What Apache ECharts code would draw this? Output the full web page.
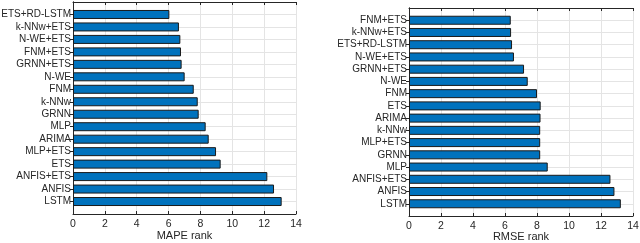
<!DOCTYPE html>
<html><head><meta charset="utf-8">
<script src="https://cdn.jsdelivr.net/npm/echarts@6/dist/echarts.min.js"></script>
<style>html,body{margin:0;padding:0;background:#fff}#c{width:640px;height:243px}</style>
</head><body><div id="c"></div>
<script>
// Left panel (MAPE rank), top to bottom
const mapeCats = ['ETS+RD-LSTM','k-NNw+ETS','N-WE+ETS','FNM+ETS','GRNN+ETS','N-WE','FNM','k-NNw','GRNN','MLP','ARIMA','MLP+ETS','ETS','ANFIS+ETS','ANFIS','LSTM'];
const mapeVals = [6.05,6.65,6.74,6.78,6.82,7.01,7.58,7.83,7.89,8.33,8.52,8.98,9.27,12.2,12.62,13.1];
// Right panel (RMSE rank), top to bottom
const rmseCats = ['FNM+ETS','k-NNw+ETS','ETS+RD-LSTM','N-WE+ETS','GRNN+ETS','N-WE','FNM','ETS','ARIMA','k-NNw','MLP+ETS','GRNN','MLP','ANFIS+ETS','ANFIS','LSTM'];
const rmseVals = [6.36,6.38,6.44,6.56,7.19,7.42,8.0,8.23,8.22,8.2,8.2,8.2,8.67,12.59,12.84,13.24];
const xTicks = [0,2,4,6,8,10,12,14];
const xNames = ['MAPE rank','RMSE rank'];

const TXT = '#262626', GRIDC = '#e4e4e4', FONT = 'Liberation Sans';
const pad = a => [''].concat(a, ['']);
const padV = a => ['-'].concat(a, ['-']);
const inner = (i, n) => i > 0 && i < n - 1;

function xAx(g, main, name, gap) {
  return {
    type: 'value', gridIndex: g, min: xTicks[0], max: xTicks[xTicks.length-1], interval: xTicks[1]-xTicks[0],
    position: main ? 'bottom' : 'top',
    name: main ? name : '', nameLocation: 'middle', nameGap: gap || 16, nameMoveOverlap: false,
    nameTextStyle: { color: TXT, fontSize: 11, fontFamily: FONT },
    axisLine: { show: true, lineStyle: { color: TXT, width: 1 } },
    axisTick: { show: true, inside: true, length: 3, lineStyle: { color: TXT } },
    axisLabel: { show: main, color: TXT, fontSize: 10.5, fontFamily: FONT, margin: 5 },
    splitLine: { show: main, lineStyle: { color: GRIDC, width: 1 } }
  };
}
function yAx(g, main, cats) {
  const d = pad(cats), n = d.length;
  return {
    type: 'category', gridIndex: g, data: d, inverse: true, boundaryGap: false,
    position: main ? 'left' : 'right',
    axisLine: { show: true, lineStyle: { color: TXT, width: 1 } },
    axisTick: { show: true, inside: true, length: 3, interval: (i) => inner(i, n), lineStyle: { color: TXT } },
    axisLabel: { show: main, interval: 0, color: TXT, fontSize: 10, fontFamily: FONT, margin: 2 },
    splitLine: { show: main, interval: (i) => inner(i, n), lineStyle: { color: GRIDC, width: 1 } }
  };
}
function barS(x, y, vals) {
  return {
    type: 'bar', xAxisIndex: x, yAxisIndex: y, data: padV(vals), barWidth: 9,
    itemStyle: { color: '#0072BD', borderColor: '#1a1a1a', borderWidth: 1 },
    animation: false, silent: true
  };
}
const chart = echarts.init(document.getElementById('c'), null, { renderer: 'canvas' });
chart.setOption({
  animation: false,
  backgroundColor: '#fff',
  grid: [
    { left: 73, top: 2, width: 223, height: 212, containLabel: false, outerBoundsMode: 'none' },
    { left: 409, top: 8, width: 224, height: 208, containLabel: false, outerBoundsMode: 'none' }
  ],
  xAxis: [xAx(0, true, xNames[0], 16.5), xAx(0, false), xAx(1, true, xNames[1], 15.5), xAx(1, false)],
  yAxis: [yAx(0, true, mapeCats), yAx(0, false, mapeCats), yAx(1, true, rmseCats), yAx(1, false, rmseCats)],
  series: [barS(0, 0, mapeVals), barS(2, 2, rmseVals)]
});
</script></body></html>
